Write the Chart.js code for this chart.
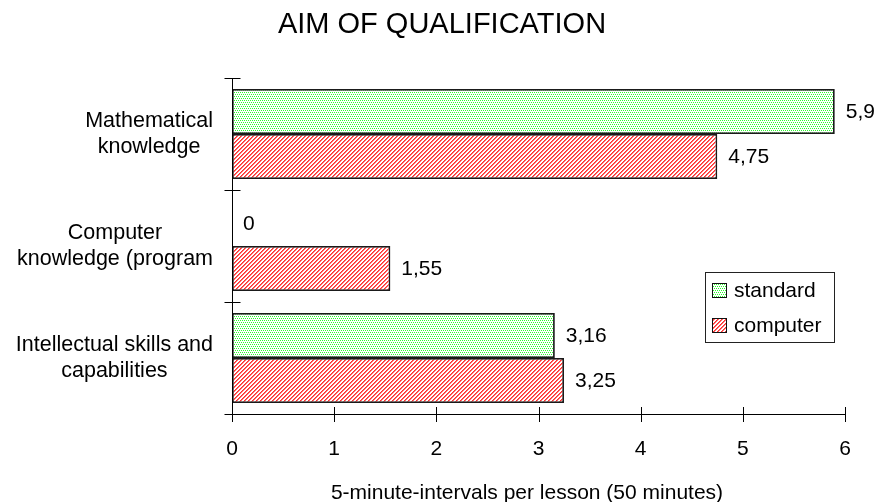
<!DOCTYPE html>
<html>
<head>
<meta charset="utf-8">
<script src="https://cdn.jsdelivr.net/npm/chart.js@4/dist/chart.umd.min.js"></script>
<style>
  html, body { margin: 0; padding: 0; background: #fff; }
  #wrap { width: 878px; height: 502px; }
</style>
</head>
<body>
<div id="wrap"><canvas id="c" width="878" height="502"></canvas></div>
<script>
// ---- data ----
const chartTitle = "AIM OF QUALIFICATION";
const xAxisTitle = "5-minute-intervals per lesson (50 minutes)";
const categories = [
  ["Mathematical", "knowledge"],
  ["Computer", "knowledge (program"],
  ["Intellectual skills and", "capabilities"]
];
const seriesNames = ["standard", "computer"];
const standardValues = [5.9, 0, 3.16];
const computerValues = [4.75, 1.55, 3.25];
const xTicks = [0, 1, 2, 3, 4, 5, 6];

// ---- patterns ----
function makePattern(kind) {
  const c = document.createElement('canvas');
  c.width = 4; c.height = 4;
  const g = c.getContext('2d');
  g.fillStyle = '#ffffff';
  g.fillRect(0, 0, 4, 4);
  for (let y = 0; y < 4; y++) {
    for (let x = 0; x < 4; x++) {
      if (kind === 'green') {
        const on = (y % 2 === 0) && ((x + (y % 4 === 2 ? 1 : 0)) % 2 === 0);
        if (on) { g.fillStyle = '#2bff2b'; g.fillRect(x, y, 1, 1); }
      } else {
        const k = (x + y) % 4;
        if (k === 0 || k === 1) { g.fillStyle = (k === 0) ? '#ff3030' : '#ff6a6a'; g.fillRect(x, y, 1, 1); }
      }
    }
  }
  return document.getElementById('c').getContext('2d').createPattern(c, 'repeat');
}
const greenPattern = makePattern('green');
const redPattern = makePattern('red');
const seriesFills = [greenPattern, redPattern];

const FONT = "'Liberation Sans', Arial, sans-serif";

const customDraw = {
  id: 'customDraw',
  afterDraw(chart) {
    const ctx = chart.ctx;
    const xs = chart.scales.x, ys = chart.scales.y;
    const area = chart.chartArea;
    ctx.save();
    ctx.strokeStyle = '#000';
    ctx.lineWidth = 1;
    // crossing tick marks on x axis
    xTicks.forEach(v => {
      const px = Math.round(xs.getPixelForValue(v)) + 0.5;
      ctx.beginPath();
      ctx.moveTo(px, Math.round(area.bottom) - 7);
      ctx.lineTo(px, Math.round(area.bottom) + 8);
      ctx.stroke();
    });
    // crossing tick marks on y axis (category boundaries)
    const bounds = [ys.top];
    for (let i = 0; i < categories.length - 1; i++) {
      bounds.push((ys.getPixelForValue(i) + ys.getPixelForValue(i + 1)) / 2);
    }
    bounds.push(ys.bottom);
    const lx = Math.round(area.left) + 0.5;
    bounds.forEach(b => {
      const py = Math.round(b) + 0.5;
      ctx.beginPath();
      ctx.moveTo(lx - 8, py);
      ctx.lineTo(lx + 8, py);
      ctx.stroke();
    });
    // y axis line
    ctx.beginPath();
    ctx.moveTo(lx, Math.round(ys.top));
    ctx.lineTo(lx, Math.round(ys.bottom) + 8);
    ctx.stroke();
    // category labels (block right-aligned, lines centred within block)
    ctx.fillStyle = '#000';
    ctx.font = "21.5px " + FONT;
    ctx.textBaseline = 'middle';
    ctx.textAlign = 'center';
    const rightEdge = 213;
    const lineH = 26;
    categories.forEach((lines, i) => {
      const cy = ys.getPixelForValue(i);
      const w = Math.max(...lines.map(t => ctx.measureText(t).width));
      const cx = rightEdge - w / 2;
      lines.forEach((t, j) => {
        ctx.fillText(t, cx, cy + (j - (lines.length - 1) / 2) * lineH);
      });
    });
    // title
    ctx.font = "29px " + FONT;
    ctx.fillText(chartTitle, 442, 25);
    // x axis title
    ctx.font = "21px " + FONT;
    ctx.fillText(xAxisTitle, 527, 493);
    // data labels
    ctx.textAlign = 'left';
    chart.data.datasets.forEach((ds, di) => {
      const meta = chart.getDatasetMeta(di);
      meta.data.forEach((el, i) => {
        const v = ds.data[i];
        ctx.fillText(String(v).replace('.', ','), el.x + 11, el.y + 1);
      });
    });
    // legend
    const lgX = 705, lgY = 272, lgW = 129, lgH = 70;
    ctx.strokeStyle = '#222';
    ctx.strokeRect(lgX + 0.5, lgY + 0.5, lgW, lgH);
    chart.data.datasets.forEach((ds, di) => {
      const sy = 283 + di * 35;
      ctx.fillStyle = ds.backgroundColor;
      ctx.fillRect(712, sy, 15, 15);
      ctx.strokeStyle = '#111';
      ctx.strokeRect(712.5, sy + 0.5, 14, 14);
      ctx.fillStyle = '#000';
      ctx.fillText(ds.label, 734, sy + 8.5);
    });
    ctx.restore();
  }
};

new Chart(document.getElementById('c'), {
  type: 'bar',
  data: {
    labels: categories.map(l => l.join(' ')),
    datasets: [
      { label: seriesNames[0], data: standardValues, backgroundColor: seriesFills[0],
        borderColor: '#1a1a1a', borderWidth: 1.8, borderSkipped: false },
      { label: seriesNames[1], data: computerValues, backgroundColor: seriesFills[1],
        borderColor: '#1a1a1a', borderWidth: 1.8, borderSkipped: false }
    ]
  },
  options: {
    indexAxis: 'y',
    responsive: false,
    animation: false,
    devicePixelRatio: 1,
    layout: { padding: { top: 78, right: 33, left: 0, bottom: 0 } },
    datasets: { bar: { categoryPercentage: 0.805, barPercentage: 1.0 } },
    plugins: { legend: { display: false }, title: { display: false }, tooltip: { enabled: false } },
    scales: {
      x: {
        min: 0, max: 6,
        afterFit(s) { s.height = 88; },
        afterBuildTicks(s) { s.ticks = xTicks.map(v => ({ value: v })); },
        grid: { display: false, drawTicks: false },
        border: { display: true, color: '#000', width: 1 },
        ticks: { color: '#000', font: { family: FONT, size: 21 }, padding: 23 }
      },
      y: {
        afterFit(s) { s.width = 232; },
        grid: { display: false, drawTicks: false },
        border: { display: false },
        ticks: { display: false }
      }
    }
  },
  plugins: [customDraw]
});
</script>
</body>
</html>
